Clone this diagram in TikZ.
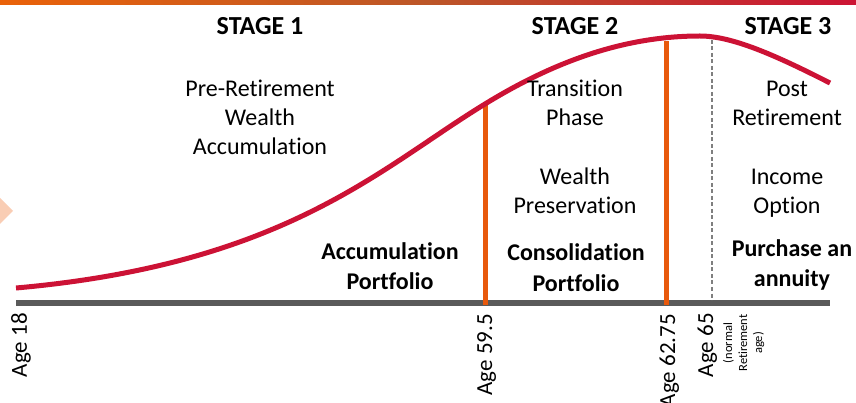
\documentclass[tikz,border=0pt]{standalone}
\usepackage{fontspec}
\setmainfont{Carlito}[Ligatures=NoCommon]
\definecolor{curvered}{HTML}{CC1235}
\definecolor{agebar}{HTML}{E8590C}
\definecolor{axisgray}{HTML}{5A5A5A}
\definecolor{dashgray}{HTML}{7F7F7F}
\definecolor{peach}{HTML}{F9CDB4}
\definecolor{barA}{HTML}{EA6209}
\definecolor{barB}{HTML}{BC5628}
\definecolor{barC}{HTML}{CC1434}
\pgfdeclarehorizontalshading{topbar}{100bp}{color(0bp)=(barA); color(25bp)=(barA); color(50bp)=(barB); color(75bp)=(barC); color(100bp)=(barC)}
\begin{document}
\begin{tikzpicture}[x=1pt,y=-1pt,
  lbl/.style={anchor=base, inner sep=0pt, font=\fontsize{24}{29}\selectfont},
  blbl/.style={anchor=base, inner sep=0pt, font=\fontsize{24}{29}\selectfont\bfseries},
  stg/.style={anchor=base, inner sep=0pt, font=\fontsize{26}{30}\selectfont\bfseries},
  age/.style={rotate=90, anchor=base east, inner sep=0pt, font=\fontsize{23}{27}\selectfont},
  note/.style={rotate=90, anchor=base, inner sep=0pt, font=\fontsize{12.5}{15}\selectfont},
  wealthcurve/.style={draw=curvered, line width=5pt},
  agemark/.style={draw=agebar, line width=5pt},
  axisline/.style={draw=axisgray, line width=6pt},
  retline/.style={draw=dashgray, line width=1.2pt, dash pattern=on 4pt off 2.5pt},
  ]
\useasboundingbox (0,0) rectangle (856,403);
\shade[shading=topbar] (0,0) rectangle (856,5);
\fill[peach] (0,198) -- (13,211) -- (0,224) -- cycle;

% axis
\coordinate (axL) at (16,303);
\coordinate (axR) at (830,303);
\draw[axisline] (axL) -- (axR);

% markers
\coordinate (m1top) at (485,104);
\coordinate (m1bot) at (485,305);
\coordinate (m2top) at (666,41);
\coordinate (m2bot) at (666,305);
\coordinate (m3top) at (712,40);
\coordinate (m3bot) at (712,300);
\draw[agemark] (m1top) -- (m1bot);
\draw[agemark] (m2top) -- (m2bot);
\draw[retline] (m3top) -- (m3bot);

% wealth curve
\coordinate (cStart) at (16,288);
\coordinate (cMid) at (485,104);
\coordinate (cPeak) at (700,36);
\coordinate (cEnd) at (830,83);
\draw[wealthcurve] (cStart) .. controls (286,264) and (380,168) .. (cMid)
  .. controls (555,61) and (625,36) .. (cPeak)
  .. controls (732,36) and (775,55) .. (cEnd);

% stages
\node[stg] (s1) at (260,35) {STAGE 1};
\node[stg] (s2) at (575,35) {STAGE 2};
\node[stg] (s3) at (788,35) {STAGE 3};

\node[lbl] (a1) at (260,97) {Pre-Retirement};
\node[lbl] (a2) at (260,126) {Wealth};
\node[lbl] (a3) at (260,155) {Accumulation};

\node[lbl] (b1) at (575,97) {Transition};
\node[lbl] (b2) at (575,126) {Phase};
\node[lbl] (b3) at (575,185) {Wealth};
\node[lbl] (b4) at (575,214) {Preservation};

\node[lbl] (c1) at (787,97) {Post};
\node[lbl] (c2) at (787,126) {Retirement};
\node[lbl] (c3) at (787,185) {Income};
\node[lbl] (c4) at (787,214) {Option};

\node[blbl] (p1) at (390,259) {Accumulation};
\node[blbl] (p2) at (390,289) {Portfolio};
\node[blbl] (q1) at (576,261) {Consolidation};
\node[blbl] (q2) at (576,291) {Portfolio};
\node[blbl] (r1) at (792,257) {Purchase an};
\node[blbl] (r2) at (792,287) {annuity};

% ages
\node[age] (g18) at (27,313) {Age 18};
\node[age] (g59) at (492,314) {Age 59.5};
\node[age] (g62) at (675,314) {Age 62.75};
\node[age] (g65) at (713,313) {Age 65};
\node[note] (n1) at (732,343) {(normal};
\node[note] (n2) at (747,343) {Retirement};
\node[note] (n3) at (762,343) {age)};
\end{tikzpicture}
\end{document}
